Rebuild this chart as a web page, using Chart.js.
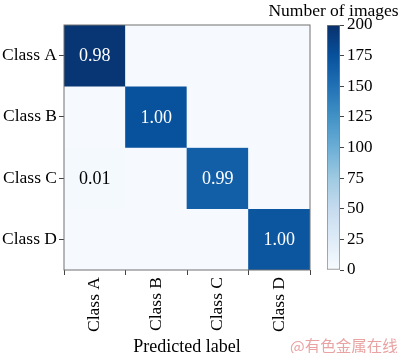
<!DOCTYPE html>
<html>
<head>
<meta charset="utf-8">
<script src="https://cdn.jsdelivr.net/npm/chart.js@4.4.0/dist/chart.umd.min.js"></script>
<style>
    html, body { margin: 0; padding: 0; background: #fff; overflow: hidden; }
    #wrap { position: relative; width: 400px; height: 353px; overflow: hidden; }
    #mainBox { position: absolute; left: 0; top: 0; width: 400px; height: 358px; }
    #barBox { position: absolute; left: 258px; top: 0; width: 142px; height: 358px; }
    #mark { position: absolute; left: 290px; top: 334px; font: 15.5px "Noto Sans CJK SC", sans-serif; color: #eaa3a3; white-space: nowrap; }
</style>
</head>
<body>
<div id="wrap">
    <div id="mainBox"><canvas id="graph1"></canvas></div>
    <div id="barBox"><canvas id="graph2"></canvas></div>
    <div id="mark">@有色金属在线</div>
</div>
<script>
// categories (rows = true label, columns = predicted label)
const classes = ['Class A', 'Class B', 'Class C', 'Class D'];

// number of images per cell, one array per true class
const countsA = [196, 1, 1, 1];
const countsB = [1, 175, 1, 1];
const countsC = [3, 1, 164, 1];
const countsD = [1, 1, 1, 171];

// normalized values written in the cells
const textA = ['0.98', '', '', ''];
const textB = ['', '1.00', '', ''];
const textC = ['0.01', '', '0.99', ''];
const textD = ['', '', '', '1.00'];

// colorbar
const cbarTitle = 'Number of images';
const cbarMin = 0;
const cbarMax = 200;
const cbarStep = 25;

const rows = [countsA, countsB, countsC, countsD];
const rowText = [textA, textB, textC, textD];

const serif = '"Liberation Serif", "Times New Roman", serif';

// matplotlib "Blues"
const bluesStops = ['#f7fbff', '#deebf7', '#c6dbef', '#9ecae1', '#6baed6', '#4292c6', '#2171b5', '#08519c', '#08306b'];

function hexToRgb(h) {
    return [parseInt(h.substr(1, 2), 16), parseInt(h.substr(3, 2), 16), parseInt(h.substr(5, 2), 16)];
}

function blues(v) {
    let t = (v - cbarMin) / (cbarMax - cbarMin);
    t = Math.max(0, Math.min(1, t));
    const pos = t * (bluesStops.length - 1);
    const i = Math.min(Math.floor(pos), bluesStops.length - 2);
    const f = pos - i;
    const a = hexToRgb(bluesStops[i]);
    const b = hexToRgb(bluesStops[i + 1]);
    const c = a.map((x, k) => Math.round(x + (b[k] - x) * f));
    return `rgb(${c[0]}, ${c[1]}, ${c[2]})`;
}

// every row is a dataset of floating bars covering one row band
const heatDatasets = rows.map((row, r) => ({
    label: classes[r],
    data: row.map(() => [r - 0.5, r + 0.5]),
    backgroundColor: row.map(v => blues(v)),
    borderWidth: 0,
    grouped: false,
    barPercentage: 1,
    categoryPercentage: 1
}));

const cellText = {
    id: 'cellText',
    afterDatasetsDraw(chart) {
        const ctx = chart.ctx;
        const xs = chart.scales.x;
        const ys = chart.scales.y;
        ctx.save();
        ctx.font = '18px ' + serif;
        ctx.textAlign = 'center';
        ctx.textBaseline = 'middle';
        rowText.forEach((row, r) => {
            row.forEach((txt, c) => {
                if (!txt) return;
                ctx.fillStyle = rows[r][c] > 100 ? '#ffffff' : '#000000';
                ctx.fillText(txt, xs.getPixelForValue(c), ys.getPixelForValue(r) + 1);
            });
        });
        // frame around the matrix
        const a = chart.chartArea;
        ctx.strokeStyle = '#707070';
        ctx.lineWidth = 1;
        ctx.strokeRect(a.left, a.top, a.right - a.left, a.bottom - a.top);
        ctx.restore();
    }
};

// colorbar label, centred over the bar
const cbarLabel = {
    id: 'cbarLabel',
    afterDraw(chart) {
        const ctx = chart.ctx;
        const a = chart.chartArea;
        ctx.save();
        ctx.font = '17.5px ' + serif;
        ctx.fillStyle = '#000';
        ctx.textAlign = 'center';
        ctx.textBaseline = 'alphabetic';
        ctx.fillText(cbarTitle, (a.left + a.right) / 2, 16);
        ctx.restore();
    }
};

function generateHeatmap() {
    const hctx = document.getElementById('graph1').getContext('2d');
    new Chart(hctx, {
        type: 'bar',
        data: {
            labels: classes,
            datasets: heatDatasets
        },
        options: {
            responsive: true,
            maintainAspectRatio: false,
            animation: false,
            layout: { padding: { left: 0, right: 90, top: 25, bottom: 0 } },
            plugins: {
                legend: { display: false },
                tooltip: { enabled: false }
            },
            scales: {
                x: {
                    type: 'category',
                    afterFit: (scale) => { scale.height = 88; },
                    grid: { drawOnChartArea: false, drawTicks: true, tickLength: 5, color: '#444' },
                    border: { display: false },
                    ticks: {
                        color: '#000',
                        font: { family: serif, size: 17.5 },
                        minRotation: 90,
                        maxRotation: 90,
                        padding: 2
                    },
                    title: {
                        display: true,
                        text: 'Predicted label',
                        color: '#000',
                        font: { family: serif, size: 18 },
                        padding: { top: 0, bottom: 0 }
                    }
                },
                y: {
                    type: 'linear',
                    min: -0.5,
                    max: 3.5,
                    reverse: true,
                    afterFit: (scale) => { scale.width = 64; },
                    afterBuildTicks: (scale) => {
                        scale.ticks = classes.map((_, i) => ({ value: i }));
                    },
                    grid: { drawOnChartArea: false, drawTicks: true, tickLength: 5, color: '#444' },
                    border: { display: false },
                    ticks: {
                        color: '#000',
                        font: { family: serif, size: 17.5 },
                        padding: 2,
                        callback: (value) => classes[value]
                    }
                }
            }
        },
        plugins: [cellText]
    });
}

function generateColorbar() {
    const cctx = document.getElementById('graph2').getContext('2d');
    new Chart(cctx, {
        type: 'bar',
        data: {
            labels: ['count'],
            datasets: [{
                data: [[cbarMin, cbarMax]],
                backgroundColor: (context) => {
                    const area = context.chart.chartArea;
                    if (!area) return bluesStops[4];
                    const g = context.chart.ctx.createLinearGradient(0, area.bottom, 0, area.top);
                    bluesStops.forEach((c, i) => g.addColorStop(i / (bluesStops.length - 1), c));
                    return g;
                },
                borderColor: '#808080',
                borderWidth: 1,
                borderSkipped: false,
                barPercentage: 1,
                categoryPercentage: 1
            }]
        },
        options: {
            responsive: true,
            maintainAspectRatio: false,
            animation: false,
            layout: { padding: { left: 69, right: 0, top: 25, bottom: 88 } },
            plugins: {
                legend: { display: false },
                tooltip: { enabled: false }
            },
            scales: {
                x: { display: false },
                y: {
                    position: 'right',
                    min: cbarMin,
                    max: cbarMax,
                    afterFit: (scale) => { scale.width = 60; },
                    grid: { drawOnChartArea: false, drawTicks: true, tickLength: 4, color: '#444' },
                    border: { display: false },
                    ticks: {
                        stepSize: cbarStep,
                        color: '#000',
                        font: { family: serif, size: 17 },
                        padding: 3
                    }
                }
            }
        },
        plugins: [cbarLabel]
    });
}

document.addEventListener('DOMContentLoaded', function () {
    generateHeatmap();
    generateColorbar();
});
</script>
</body>
</html>
